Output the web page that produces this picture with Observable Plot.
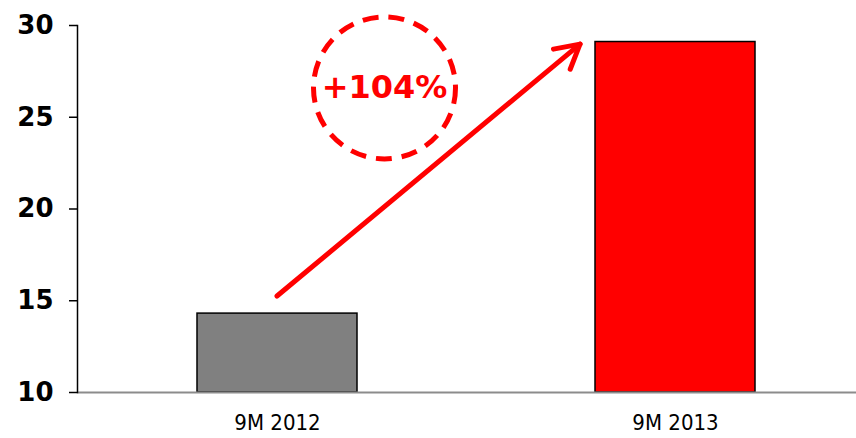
<!DOCTYPE html>
<html>
<head>
<meta charset="utf-8">
<script src="https://cdn.jsdelivr.net/npm/d3@7"></script>
<script src="https://cdn.jsdelivr.net/npm/@observablehq/plot@0.6"></script>
<style>
  html, body { margin: 0; padding: 0; background: #fff; }
  #chart svg { display: block; }
</style>
</head>
<body>
<div id="chart"></div>
<script>
const categories = ["9M 2012", "9M 2013"];
const values = [14.3, 29.1];
const barColors = ["#808080", "#ff0000"];
const yTicks = [10, 15, 20, 25, 30];
const growthLabel = "+104%";
const arrowFromValue = 15.23;
const arrowToValue = 28.96;
const badgeValue = 26.6;

const data = categories.map((c, i) => ({category: c, value: values[i], color: barColors[i]}));

function growthArrow(index, scales) {
  const {x, y} = scales;
  const bw = x.bandwidth();
  const x1 = x(categories[0]) + bw / 2, y1 = y(arrowFromValue);
  const x2 = x(categories[1]) - 15, y2 = y(arrowToValue);
  const ang = Math.atan2(y2 - y1, x2 - x1);
  const hl = 27, ha = 29 * Math.PI / 180;
  const a1 = [x2 - hl * Math.cos(ang - ha), y2 - hl * Math.sin(ang - ha)];
  const a2 = [x2 - hl * Math.cos(ang + ha), y2 - hl * Math.sin(ang + ha)];
  const g = d3.create("svg:g")
    .attr("fill", "none").attr("stroke", "#ff0000")
    .attr("stroke-width", 5).attr("stroke-linecap", "round").attr("stroke-linejoin", "round");
  g.append("path").attr("d", `M${x1},${y1}L${x2},${y2}`);
  g.append("path").attr("d", `M${a1[0]},${a1[1]}L${x2},${y2}L${a2[0]},${a2[1]}`);
  return g.node();
}

const chart = Plot.plot({
  width: 856,
  height: 438,
  marginLeft: 77,
  marginRight: 0,
  marginTop: 25,
  marginBottom: 46,
  style: {background: "#fff", color: "#000"},
  x: {domain: categories, range: [77, 874], paddingInner: 0.598, paddingOuter: 0.30, label: null},
  y: {domain: [10, 30], label: null},
  marks: [
    Plot.barY(data, {x: "category", y1: 10, y2: "value", fill: "color", stroke: "#000", strokeWidth: 1.5}),
    Plot.ruleY([10], {stroke: "#8c8c8c", strokeWidth: 2}),
    Plot.frame({anchor: "left", stroke: "#000", strokeWidth: 1.5}),
    Plot.axisY({ticks: yTicks, tickSize: 8, tickPadding: 16, tickFormat: d => String(d),
      fontSize: 26, fontWeight: 900, fontFamily: "DejaVu Sans", stroke: "#000", strokeWidth: 1.5, label: null}),
    Plot.axisX({tickSize: 0, tickPadding: 22, fontSize: 22, fontFamily: "DejaVu Sans Condensed", label: null}),
    growthArrow,
    Plot.dot([0], {x: () => categories[0], y: () => badgeValue, dx: 107, r: 71,
      stroke: "#ff0000", strokeWidth: 5, strokeDasharray: "16,10", fill: "none"}),
    Plot.text([growthLabel], {x: () => categories[0], y: () => badgeValue, dx: 107, text: d => d,
      fill: "#ff0000", fontSize: 32, fontWeight: 900, fontFamily: "DejaVu Sans"})
  ]
});
document.getElementById("chart").appendChild(chart);
</script>
</body>
</html>
